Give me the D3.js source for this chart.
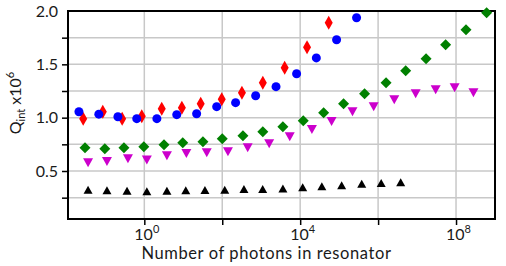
<!DOCTYPE html>
<html>
<head>
<meta charset="utf-8">
<script src="https://cdn.jsdelivr.net/npm/d3@7"></script>
<style>
  body { margin: 0; background: #fff; }
  text { font-family: Lato, "Open Sans", sans-serif; fill: #1a1a1a; }
</style>
</head>
<body>
<div id="chart"></div>
<script>
// photon numbers and Q_int (x10^6)
var redPhotons = [0.027, 0.086, 0.27, 0.86, 2.8, 9.2, 28, 97, 320, 1100, 4000, 15000, 54000];
var redQ = [0.99, 1.056, 0.99, 1.014, 1.084, 1.094, 1.131, 1.173, 1.234, 1.328, 1.469, 1.661, 1.89];

var bluePhotons = [0.021, 0.068, 0.21, 0.64, 2.1, 6.8, 22, 72, 220, 720, 2400, 8100, 26000, 86000, 280000];
var blueQ = [1.056, 1.033, 1.009, 0.991, 0.991, 1.028, 1.037, 1.103, 1.141, 1.206, 1.291, 1.412, 1.56, 1.731, 1.937];

var greenPhotons = [0.030, 0.097, 0.30, 0.97, 3.2, 9.7, 32, 100, 340, 1100, 3600, 12000, 40000, 130000,
                    450000, 1.6e6, 5.1e6, 1.7e7, 5.4e7, 1.8e8, 6.1e8];
var greenQ = [0.719, 0.709, 0.719, 0.728, 0.747, 0.766, 0.775, 0.803, 0.831, 0.869, 0.916, 0.972, 1.047, 1.131,
              1.225, 1.328, 1.44, 1.553, 1.684, 1.825, 1.984];

var magentaPhotons = [0.036, 0.11, 0.38, 1.16, 3.8, 12, 40, 140, 450, 1600, 5400, 20000, 64000, 220000,
                      770000, 2.6e6, 9.2e6, 3.0e7, 9.2e7, 2.8e8];
var magentaQ = [0.578, 0.588, 0.616, 0.602, 0.644, 0.663, 0.672, 0.681, 0.719, 0.756, 0.822, 0.888, 0.963, 1.056,
                1.103, 1.169, 1.225, 1.262, 1.281, 1.234];

var blackPhotons = [0.036, 0.11, 0.36, 1.16, 3.8, 11.6, 36, 116, 360, 1090, 3600, 11600, 36000, 116000,
                    380000, 1.2e6, 3.8e6];
var blackQ = [0.325, 0.319, 0.316, 0.309, 0.316, 0.319, 0.322, 0.325, 0.332, 0.332, 0.335, 0.347, 0.356, 0.366,
              0.381, 0.388, 0.394];

var xTickExps = [0, 4, 8];
var xGridExps = [0, 2, 4, 6, 8];
var yTickLabels = [0.5, 1.0, 1.5, 2.0];
var yGridValues = [0.25, 0.5, 0.75, 1.0, 1.25, 1.5, 1.75];

var width = 506, height = 266;
var margin = {left: 68, right: 11, top: 11, bottom: 47};

var svg = d3.select('#chart').append('svg')
            .attr('width', width)
            .attr('height', height);

var x = d3.scaleLog()
          .domain([0.011, 1e9])
          .range([margin.left, width - margin.right]);

var y = d3.scaleLinear()
          .domain([0.05, 2.0])
          .range([height - margin.bottom, margin.top]);

// grid lines
svg.append('g').selectAll('line.vg')
   .data(xGridExps)
   .enter().append('line')
   .attr('x1', function(d) { return x(Math.pow(10, d)); })
   .attr('x2', function(d) { return x(Math.pow(10, d)); })
   .attr('y1', y.range()[0])
   .attr('y2', y.range()[1])
   .attr('stroke', '#c8c8c8')
   .attr('stroke-width', 1.5);

svg.append('g').selectAll('line.hg')
   .data(yGridValues)
   .enter().append('line')
   .attr('x1', x.range()[0])
   .attr('x2', x.range()[1])
   .attr('y1', function(d) { return y(d); })
   .attr('y2', function(d) { return y(d); })
   .attr('stroke', '#c8c8c8')
   .attr('stroke-width', 1.5);

// axes (ticks only, the frame is drawn below)
var xAxis = d3.axisBottom(x)
              .tickValues(xGridExps.map(function(e) { return Math.pow(10, e); }))
              .tickSize(6)
              .tickFormat('');
svg.append('g')
   .attr('transform', 'translate(0,' + y.range()[0] + ')')
   .call(xAxis)
   .call(function(g) { g.select('.domain').remove(); })
   .selectAll('line').attr('stroke', '#000').attr('stroke-width', 1.5);

var yAxis = d3.axisLeft(y)
              .tickValues(yGridValues)
              .tickSize(6)
              .tickFormat('');
svg.append('g')
   .attr('transform', 'translate(' + x.range()[0] + ',0)')
   .call(yAxis)
   .call(function(g) { g.select('.domain').remove(); })
   .selectAll('line').attr('stroke', '#000').attr('stroke-width', 1.5);

// x tick labels 10^n
xTickExps.forEach(function(e) {
  var t = svg.append('text')
             .attr('x', x(Math.pow(10, e)) - 10)
             .attr('y', 239.5)
             .attr('font-size', 16);
  t.append('tspan').text('10');
  t.append('tspan').attr('dy', -7).attr('font-size', 11).text(e);
});

// y tick labels
svg.append('g').selectAll('text')
   .data(yTickLabels)
   .enter().append('text')
   .attr('x', 58)
   .attr('y', function(d) { return y(d); })
   .attr('dy', '0.36em')
   .attr('text-anchor', 'end')
   .attr('font-size', 16)
   .text(function(d) { return d.toFixed(1); });

// axis titles
svg.append('text')
   .attr('x', (x.range()[0] + x.range()[1]) / 2 - 15)
   .attr('y', 259)
   .attr('text-anchor', 'middle')
   .attr('font-size', 16.5)
   .attr('letter-spacing', 0.6)
   .text('Number of photons in resonator');

var yt = svg.append('text')
            .attr('transform', 'translate(21,103) rotate(-90)')
            .attr('text-anchor', 'middle')
            .attr('font-size', 16);
yt.append('tspan').text('Q');
yt.append('tspan').attr('dy', 4).attr('font-size', 11).text('int');
yt.append('tspan').attr('dy', -4).text(' x10');
yt.append('tspan').attr('dy', -7).attr('font-size', 11).text('6');

// frame
svg.append('rect')
   .attr('x', x.range()[0])
   .attr('y', y.range()[1])
   .attr('width', x.range()[1] - x.range()[0])
   .attr('height', y.range()[0] - y.range()[1])
   .attr('fill', 'none')
   .attr('stroke', '#000')
   .attr('stroke-width', 2);

// marker shapes, centred on the point
function diamond(w, h) {
  return 'M0,' + (-h / 2) + 'L' + (w / 2) + ',0L0,' + (h / 2) + 'L' + (-w / 2) + ',0Z';
}
function triUp(w, h) {
  return 'M0,' + (-h / 2) + 'L' + (w / 2) + ',' + (h / 2) + 'L' + (-w / 2) + ',' + (h / 2) + 'Z';
}
function triDown(w, h) {
  return 'M0,' + (h / 2) + 'L' + (w / 2) + ',' + (-h / 2) + 'L' + (-w / 2) + ',' + (-h / 2) + 'Z';
}

function drawSeries(photons, q, color, shape) {
  var pts = photons.map(function(p, i) { return [p, q[i]]; });
  var g = svg.append('g');
  if (shape === 'circle') {
    g.selectAll('circle').data(pts).enter().append('circle')
     .attr('cx', function(d) { return x(d[0]); })
     .attr('cy', function(d) { return y(d[1]); })
     .attr('r', 4.5)
     .attr('fill', color);
  } else {
    g.selectAll('path').data(pts).enter().append('path')
     .attr('transform', function(d) { return 'translate(' + x(d[0]) + ',' + y(d[1]) + ')'; })
     .attr('d', shape)
     .attr('fill', color);
  }
}

drawSeries(blackPhotons, blackQ, '#000000', triUp(9, 8));
drawSeries(greenPhotons, greenQ, '#008000', diamond(11, 11));
drawSeries(magentaPhotons, magentaQ, '#cc00cc', triDown(10, 9));
drawSeries(redPhotons, redQ, '#ff0000', diamond(8, 14));
drawSeries(bluePhotons, blueQ, '#0000ff', 'circle');
</script>
</body>
</html>
